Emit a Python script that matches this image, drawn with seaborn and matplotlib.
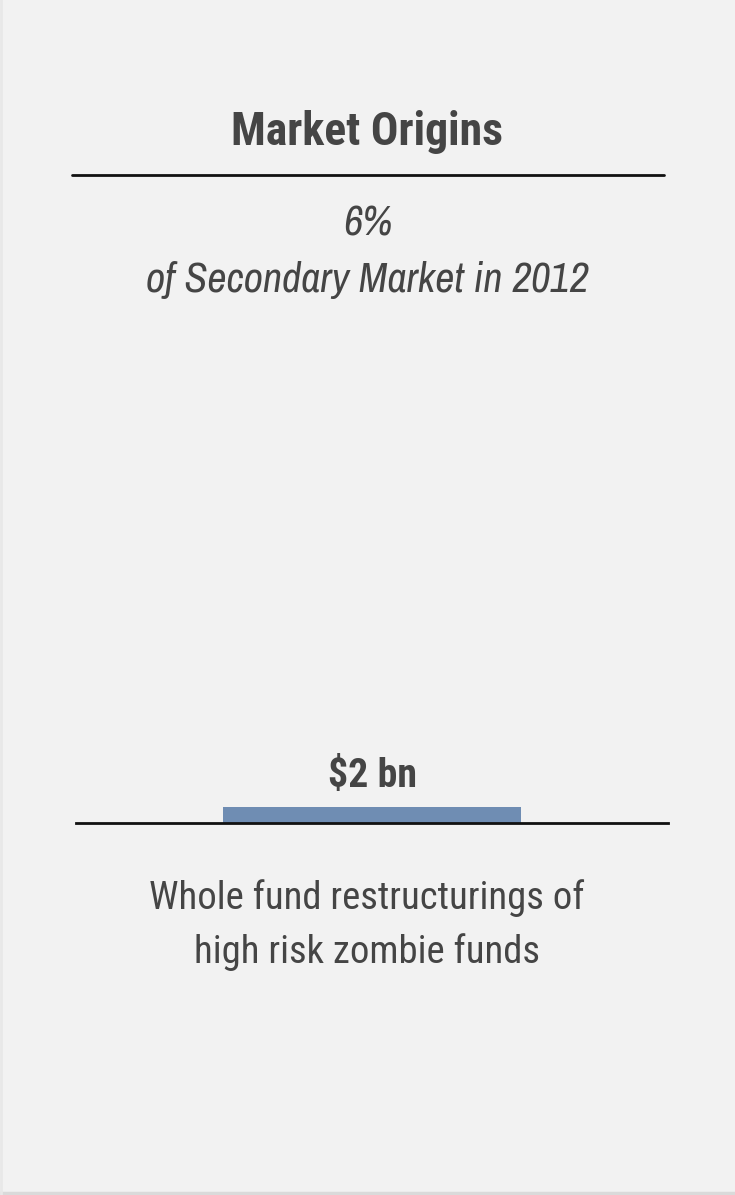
import math
import matplotlib
matplotlib.use("Agg")
import matplotlib.pyplot as plt
from matplotlib import font_manager
import seaborn as sns
import pandas as pd

# Data
categories = ["Whole fund restructurings"]
values_bn = [2]
value_labels = ["$2 bn"]
title = "Market Origins"
share_text = "6%"
share_caption = "of Secondary Market in 2012"
description_lines = ["Whole fund restructurings of", "high risk zombie funds"]

sns.set_theme(style="white")
names = {f.name for f in font_manager.fontManager.ttflist}

W, H = 735, 1195
BG = "#f2f2f2"
TXT = "#454545"
BAR = "#6f8db3"

fig = plt.figure(figsize=(W / 100, H / 100), dpi=100)
fig.patch.set_facecolor(BG)
renderer = fig.canvas.get_renderer()


def fx(px):
    return px / W


def fy(py):
    return 1 - py / H


def text_width(s, size, family, **kw):
    t = fig.text(0, 0, s, fontsize=size, family=family, **kw)
    w = t.get_window_extent(renderer=renderer).width
    t.remove()
    return w


def best_family(cands, specs, **kw):
    """Pick the installed family whose natural width best fits the text boxes."""
    best, best_score = None, None
    for fam in cands:
        if fam not in names:
            continue
        score = 0
        for s, size, width in specs:
            fit = size * width / text_width(s, size, fam, **kw)
            score += abs(math.log(fit / size))
        if best_score is None or score < best_score:
            best, best_score = fam, score
    return best or "Liberation Sans"


def fitted_size(s, width, family, size, **kw):
    return size * width / text_width(s, size, family, **kw)


# (text, nominal size in pt, width of text box in px)
bold_specs = [(title, 33, 272), (value_labels[0], 30, 89)]
reg_specs = [(description_lines[0], 28, 435), (description_lines[1], 28, 345)]
it_specs = [(share_caption, 30, 443)]

narrow = ["Roboto Condensed", "Pragati Narrow", "Archivo Narrow", "PT Sans Narrow",
          "Liberation Sans", "Roboto"]
FAM_B = best_family(narrow, bold_specs, fontweight="bold")
FAM_R = best_family(narrow, reg_specs)
FAM_I = best_family(["Roboto Condensed", "Archivo Narrow", "Liberation Sans", "Roboto"],
                    it_specs, style="italic")
plt.rcParams["font.family"] = [FAM_R, "DejaVu Sans"]

# Card edge shading
fig.add_artist(plt.Line2D([0, 1], [fy(1193), fy(1193)], color="#dadada", lw=2.5, transform=fig.transFigure))
fig.add_artist(plt.Line2D([fx(1), fx(1)], [0, 1], color="#e8e8e8", lw=2, transform=fig.transFigure))

# Title and rule
fig.text(fx(367), fy(145), title, ha="center", va="baseline",
         fontsize=fitted_size(title, 272, FAM_B, 33, fontweight="bold"),
         fontweight="bold", color=TXT, family=[FAM_B, "DejaVu Sans"])
fig.add_artist(plt.Line2D([fx(72), fx(664)], [fy(175), fy(175)], color="#111111", lw=2,
                          transform=fig.transFigure))

# Share of market
it_size = fitted_size(share_caption, 443, FAM_I, 30, style="italic")
fig.text(fx(368), fy(236), share_text, ha="center", va="baseline", fontsize=it_size,
         style="italic", color=TXT, family=[FAM_I, "DejaVu Sans"])
fig.text(fx(367), fy(292), share_caption, ha="center", va="baseline", fontsize=it_size,
         style="italic", color=TXT, family=[FAM_I, "DejaVu Sans"])

# Bar axes: baseline at y=823 px
ax_left, ax_right = 76, 668
ax_top, ax_bot = 330, 823
ax = fig.add_axes([fx(ax_left), fy(ax_bot), fx(ax_right - ax_left), (ax_bot - ax_top) / H])
ax.set_facecolor("none")
df = pd.DataFrame({"category": categories, "value": values_bn})
sns.barplot(data=df, x="category", y="value", color=BAR, width=0.503, saturation=1, ax=ax)
px_per_unit = 16 / values_bn[0]
ax.set_ylim(0, (ax_bot - ax_top) / px_per_unit)
ax.set_xlim(-0.5, 0.5)
ax.set_xticks([])
ax.set_yticks([])
ax.set_xlabel("")
ax.set_ylabel("")
for s in ["top", "left", "right"]:
    ax.spines[s].set_visible(False)
ax.spines["bottom"].set_color("#111111")
ax.spines["bottom"].set_linewidth(2)
lab_size = fitted_size(value_labels[0], 89, FAM_B, 30, fontweight="bold")
for p, lab in zip(ax.patches, value_labels):
    p.set_edgecolor("none")
    # label baseline sits 20 px above the bar top
    ax.annotate(lab, (p.get_x() + p.get_width() / 2, p.get_height()),
                xytext=(0, 20 * 0.72), textcoords="offset points",
                ha="center", va="baseline", fontsize=lab_size, fontweight="bold",
                color=TXT, family=[FAM_B, "DejaVu Sans"])

# Description
desc_size = fitted_size(description_lines[0], 435, FAM_R, 28)
for i, line in enumerate(description_lines):
    fig.text(fx(367), fy(909 + 54 * i), line, ha="center", va="baseline",
             fontsize=desc_size, color=TXT, family=[FAM_R, "DejaVu Sans"])

fig.savefig("out.png", dpi=100, facecolor=BG)
